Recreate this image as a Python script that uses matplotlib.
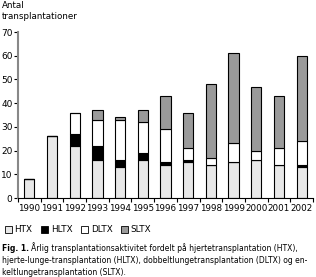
import numpy as np
import matplotlib.pyplot as plt
from matplotlib.patches import Patch

years = ['1990', '1991', '1992', '1993', '1994', '1995', '1996',
         '1997', '1998', '1999', '2000', '2001', '2002']
htx = [8, 26, 22, 16, 13, 16, 14, 15, 14, 15, 16, 14, 13]
hltx = [0, 0, 5, 6, 3, 3, 1, 1, 0, 0, 0, 0, 1]
dltx = [0, 0, 9, 11, 17, 13, 14, 5, 3, 8, 4, 7, 10]
sltx = [0, 0, 0, 4, 1, 5, 14, 15, 31, 38, 27, 22, 36]

series = [('HTX', htx, '#e8e8e8'), ('HLTX', hltx, 'black'),
          ('DLTX', dltx, 'white'), ('SLTX', sltx, '#9a9a9a')]

plt.rcParams['font.family'] = 'DejaVu Sans'

fig = plt.figure(figsize=(3.16, 2.77), dpi=100)
ax = fig.add_axes([18 / 316, 79 / 277, 295 / 316, 166 / 277])

x = np.arange(len(years))
bottom = np.zeros(len(years))
for name, vals, col in series:
    vals = np.array(vals)
    ax.bar(x, vals, 0.45, bottom=bottom, color=col, edgecolor='black',
           linewidth=0.8, label=name)
    bottom += vals

ax.set_xlim(-0.5, len(years) - 0.5)
ax.set_ylim(0, 70)
ax.set_yticks(range(0, 71, 10))
ax.set_xticks(x)
ax.set_xticklabels(years)
ax.set_xticks(np.arange(-0.5, len(years), 1), minor=True)
ax.tick_params(axis='x', which='major', length=0, labelsize=6.3, pad=4)
ax.tick_params(axis='x', which='minor', length=3, width=0.8, direction='out')
ax.tick_params(axis='y', labelsize=6.5, length=3, width=0.8, pad=1)
for s in ['top', 'right']:
    ax.spines[s].set_visible(False)
ax.spines['left'].set_color('#888888')
ax.spines['left'].set_linewidth(1.5)
ax.spines['bottom'].set_linewidth(0.8)

fig.text(0.005, 0.995, 'Antal\ntransplantationer', fontsize=6.3,
         va='top', ha='left', linespacing=1.3)

handles = [Patch(facecolor=c, edgecolor='black', linewidth=0.6, label=n)
           for n, _, c in series]
fig.legend(handles=handles, loc='lower left', bbox_to_anchor=(-0.01, 0.125),
           ncol=4, frameon=False, fontsize=6.3, handlelength=0.8,
           handleheight=0.8, handletextpad=0.3, columnspacing=1.0)

# caption: bold "Fig. 1." followed by plain text
cap_size = 5.5
t1 = fig.text(0.005, 0.095, 'Fig. 1.', fontsize=cap_size, fontweight='bold',
              va='baseline', ha='left')
fig.canvas.draw()
bb = t1.get_window_extent()
fig.text(bb.x1 / fig.bbox.width + 0.008, 0.095,
         'Årlig transplantationsaktivitet fordelt på hjertetransplantation (HTX),',
         fontsize=cap_size, va='baseline', ha='left')
fig.text(0.005, 0.095 - 0.044,
         'hjerte-lunge-transplantation (HLTX), dobbeltlungetransplantation (DLTX) og en-',
         fontsize=cap_size, va='baseline', ha='left')
fig.text(0.005, 0.095 - 0.088, 'keltlungetransplantation (SLTX).',
         fontsize=cap_size, va='baseline', ha='left')

fig.savefig('out.png', dpi=100)
